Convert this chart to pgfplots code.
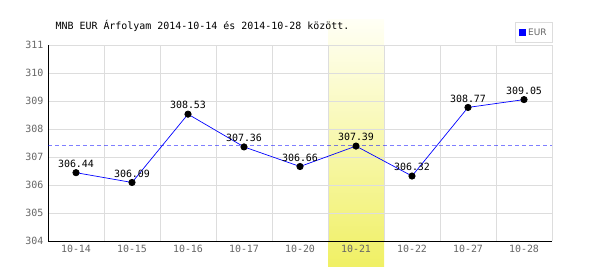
\documentclass[border=0pt]{standalone}
\usepackage{pgfplots}
\pgfplotsset{compat=1.18}
\usepackage{fontspec}
\setmainfont{DejaVu Sans Mono}
\newfontfamily\legfont{DejaVu Sans}
\definecolor{tickgray}{RGB}{102,102,102}
\definecolor{gridgray}{RGB}{221,221,221}
\definecolor{hl}{RGB}{240,240,100}
\definecolor{hltop}{RGB}{255,255,245}
\begin{document}
\begin{tikzpicture}
% highlight band behind column 10-21 (axis box starts at origin, 56bp per category, 28bp per unit)
\shade[top color=hltop, bottom color=hl] (280bp,-26bp) rectangle (336bp,221bp);
\begin{axis}[
  at={(0,0)}, anchor=south west,
  scale only axis, width=504bp, height=196bp,
  xmin=-0.5, xmax=8.5, ymin=304, ymax=311,
  xtick={0,...,8},
  xticklabels={10-14,10-15,10-16,10-17,10-20,10-21,10-22,10-27,10-28},
  minor xtick={-0.5,0.5,1.5,2.5,3.5,4.5,5.5,6.5,7.5,8.5},
  ytick={304,305,306,307,308,309,310,311},
  ymajorgrids, xminorgrids,
  grid style={gridgray, line width=0.8pt},
  minor grid style={gridgray, line width=0.8pt},
  major tick length=0pt, minor tick length=0pt,
  axis x line*=bottom, axis y line*=left,
  axis line style={-, black, line width=0.9pt},
  tick label style={font=\fontsize{10}{12}\selectfont, text=tickgray},
  /pgf/number format/assume math mode=true,
  yticklabel style={xshift=-1pt},
  xticklabel style={yshift=-1pt},
  clip=false,
  legend style={at={(rel axis cs:1,1)}, xshift=1bp, yshift=2bp, anchor=south east,
    draw=gridgray, line width=0.8pt, font=\legfont\fontsize{9}{10}\selectfont,
    text=tickgray, inner xsep=4pt, inner ysep=4pt},
  legend image code/.code={\fill[blue] (0pt,-3pt) rectangle (6pt,3pt);},
]
\addplot[color=blue, draw opacity=0.5, line width=1pt, dash pattern=on 4pt off 3pt, mark=none, forget plot]
  coordinates {(-0.5,307.40) (8.5,307.40)};
\addplot[color=blue, line width=0.7pt, mark=*, mark size=3.2pt,
  mark options={fill=black, draw=black, solid}, forget plot,
  nodes near coords, point meta=explicit symbolic,
  every node near coord/.style={font=\fontsize{10}{12}\selectfont, text=black, anchor=south, yshift=1.5pt}]
  table[meta=lab] {
x y lab
0 306.44 306.44
1 306.09 306.09
2 308.53 308.53
3 307.36 307.36
4 306.66 306.66
5 307.39 307.39
6 306.32 306.32
7 308.77 308.77
8 309.05 309.05
};
\addlegendimage{blue}
\addlegendentry{EUR}
\end{axis}
\node[anchor=base west, font=\fontsize{10}{12}\selectfont, text=black]
  at ([xshift=4bp,yshift=15bp]current axis.north west)
  {MNB EUR Árfolyam 2014-10-14 és 2014-10-28 között.};
\pgfresetboundingbox
\path[use as bounding box] ([xshift=-48bp,yshift=-29bp]current axis.south west)
  rectangle ([xshift=48bp,yshift=45bp]current axis.north east);
\end{tikzpicture}
\end{document}
